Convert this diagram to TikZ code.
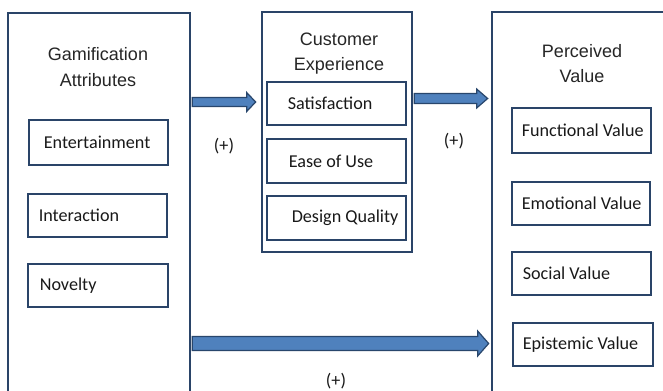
\documentclass[tikz,border=0pt]{standalone}
\usepackage{fontspec}
\setmainfont{Liberation Sans}
\newfontfamily\calibrilike{Carlito}
\usetikzlibrary{calc,fit}

\definecolor{boxblue}{RGB}{42,68,104}
\definecolor{arrowfill}{RGB}{79,129,189}
\definecolor{arrowline}{RGB}{40,70,108}

\tikzset{
  groupbox/.style={draw=boxblue, line width=2pt, fill=white, inner sep=0pt, rectangle},
  itembox/.style={draw=boxblue, line width=2.2pt, fill=white, inner sep=0pt, rectangle},
  grouptitle/.style={font=\fontsize{13.5}{16}\selectfont, text=black!85, inner sep=0pt},
  itemtext/.style={font=\calibrilike\fontsize{13.6}{16}\selectfont, text=black!90, inner sep=0pt, anchor=west},
  signlabel/.style={font=\calibrilike\fontsize{13.6}{16}\selectfont, text=black!90, inner sep=0pt},
  fatarrow/.style={fill=arrowfill, draw=arrowline, line width=0.9pt, line join=miter}
}

% block arrow: start, tip, shaft half-height, head half-height, head length
\newcommand{\blockarrowpath}[5]{%
  \filldraw[fatarrow] ($(#1)+(0,-#3)$) -- ($(#2)+(-#5,-#3)$) -- ($(#2)+(-#5,-#4)$)
    -- (#2) -- ($(#2)+(-#5,#4)$) -- ($(#2)+(-#5,#3)$) -- ($(#1)+(0,#3)$) -- cycle;}

\begin{document}
\begin{tikzpicture}[x=0.75pt, y=-0.75pt]
  \path[use as bounding box] (0,0) rectangle (663,390);
  \clip (0,0) rectangle (663,390);
  \fill[white] (0,0) rectangle (663,390);

  % three groups
  \node[groupbox, fit={(8,13) (190,410)}] (ga) {};
  \node[groupbox, fit={(262,12) (412,252)}] (ce) {};
  \node[groupbox, fit={(492,12) (690,410)}] (pv) {};

  % group titles
  \node[grouptitle, anchor=base] (gat1) at (98,60) {Gamification};
  \node[grouptitle, anchor=base] (gat2) at (98,86) {Attributes};
  \node[grouptitle, anchor=base] (cet1) at (339,45) {Customer};
  \node[grouptitle, anchor=base] (cet2) at (339,70) {Experience};
  \node[grouptitle, anchor=base] (pvt1) at (582,57) {Perceived};
  \node[grouptitle, anchor=base] (pvt2) at (582,82) {Value};

  % gamification attributes
  \node[itembox, fit={(29,120) (168,165)}] (ent) {};
  \node[itemtext] (entt) at ($(ent.west)+(16,0)$) {Entertainment};
  \node[itembox, fit={(28,194) (167,237)}] (int) {};
  \node[itemtext] (intt) at ($(int.west)+(12,0)$) {Interaction};
  \node[itembox, fit={(28,264) (168,307)}] (nov) {};
  \node[itemtext] (novt) at ($(nov.west)+(13,0)$) {Novelty};

  % customer experience
  \node[itembox, fit={(267,82) (406,125)}] (sat) {};
  \node[itemtext] (satt) at ($(sat.west)+(22,0)$) {Satisfaction};
  \node[itembox, fit={(267,139) (406,183)}] (eou) {};
  \node[itemtext] (eout) at ($(eou.west)+(23,0)$) {Ease of Use};
  \node[itembox, fit={(267,196) (406,240)}] (dq) {};
  \node[itemtext] (dqt) at ($(dq.west)+(26,0)$) {Design Quality};

  % perceived value
  \node[itembox, fit={(512,108) (651,153)}] (fv) {};
  \node[itemtext] (fvt) at ($(fv.west)+(11,0)$) {Functional Value};
  \node[itembox, fit={(512,182) (650,225)}] (ev) {};
  \node[itemtext] (evt) at ($(ev.west)+(11,0)$) {Emotional Value};
  \node[itembox, fit={(512,252) (651,295)}] (sv) {};
  \node[itemtext] (svt) at ($(sv.west)+(12,0)$) {Social Value};
  \node[itembox, fit={(513,323) (653,366)}] (epv) {};
  \node[itemtext] (epvt) at ($(epv.west)+(11,0)$) {Epistemic Value};

  % arrow end points on the group borders
  \coordinate (a1s) at ($(ga.east |- 0,102)+(1,0)$);
  \coordinate (a1e) at ($(ce.west |- 0,102)+(-5,0)$);
  \coordinate (a2s) at ($(ce.east |- 0,98.5)+(1,0)$);
  \coordinate (a2e) at ($(pv.west |- 0,98.5)+(-3,0)$);
  \coordinate (a3s) at ($(ga.east |- 0,343.5)+(1,0)$);
  \coordinate (a3e) at ($(pv.west |- 0,343.5)+(-2,0)$);

  \blockarrowpath{a1s}{a1e}{4.5}{9.5}{9}
  \blockarrowpath{a2s}{a2e}{5}{9.5}{11}
  \blockarrowpath{a3s}{a3e}{7}{12.5}{11}

  % effect signs
  \node[signlabel] (s1) at (224,146) {(+)};
  \node[signlabel] (s2) at (454,141) {(+)};
  \node[signlabel] (s3) at (336,381) {(+)};
\end{tikzpicture}
\end{document}
